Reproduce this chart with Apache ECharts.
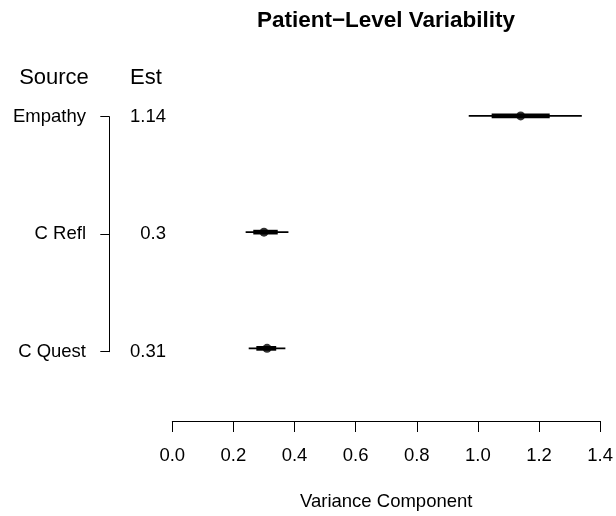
<!DOCTYPE html>
<html>
<head>
<meta charset="utf-8">
<script src="https://cdn.jsdelivr.net/npm/echarts@6/dist/echarts.min.js"></script>
<style>html,body{margin:0;padding:0;background:#fff;}#c{width:616px;height:516px;}</style>
</head>
<body>
<div id="c"></div>
<script>
// ---- data ----
var sources = ['Empathy', 'C Refl', 'C Quest'];
var est = [1.14, 0.3, 0.31];
var lo95 = [0.97, 0.24, 0.25];
var hi95 = [1.34, 0.38, 0.37];
var lo50 = [1.045, 0.265, 0.275];
var hi50 = [1.235, 0.345, 0.34];
var xTicks = [0.0, 0.2, 0.4, 0.6, 0.8, 1.0, 1.2, 1.4];
var titleText = 'Patient\u2212Level Variability';
var xName = 'Variance Component';

// row positions: first source at top
function rowY(i) { return sources.length - i; }

var FONT = 'Liberation Sans, Arial, Helvetica, sans-serif';

var thinData = sources.map(function (s, i) { return [lo95[i], hi95[i], rowY(i)]; });
var thickData = sources.map(function (s, i) { return [lo50[i], hi50[i], rowY(i)]; });
var pointData = sources.map(function (s, i) { return [est[i], rowY(i)]; });

function segRenderer(width) {
  return function (params, api) {
    var p1 = api.coord([api.value(0), api.value(2)]);
    var p2 = api.coord([api.value(1), api.value(2)]);
    return {
      type: 'line',
      shape: { x1: p1[0], y1: p1[1], x2: p2[0], y2: p2[1] },
      style: { stroke: '#000', lineWidth: width, lineCap: 'butt' }
    };
  };
}

var chart = echarts.init(document.getElementById('c'), null, { renderer: 'canvas' });
chart.setOption({
  animation: false,
  backgroundColor: '#fff',
  title: [
    { text: titleText, left: 386, top: 21, textAlign: 'center', textVerticalAlign: 'middle', padding: 0,
      textStyle: { fontFamily: FONT, fontSize: 22.5, fontWeight: 'bold', color: '#000' } },
    { text: 'Source', left: 54, top: 77.5, textAlign: 'center', textVerticalAlign: 'middle', padding: 0,
      textStyle: { fontFamily: FONT, fontSize: 22, fontWeight: 'normal', color: '#000' } },
    { text: 'Est', left: 146, top: 77.5, textAlign: 'center', textVerticalAlign: 'middle', padding: 0,
      textStyle: { fontFamily: FONT, fontSize: 22, fontWeight: 'normal', color: '#000' } }
  ],
  grid: [
    { left: 172.3, right: 15.3, top: 57.8, bottom: 91, containLabel: false },
    { left: 109.3, width: 56.7, top: 116.7, height: 235, containLabel: false }
  ],
  xAxis: [
    {
      gridIndex: 0, type: 'value', min: xTicks[0], max: xTicks[xTicks.length - 1], interval: 0.2,
      position: 'bottom',
      axisLine: { show: true, lineStyle: { color: '#000', width: 1 } },
      axisTick: { show: true, length: 11, lineStyle: { color: '#000', width: 1 } },
      axisLabel: { show: true, margin: 25, color: '#000', fontFamily: FONT, fontSize: 18.5,
        formatter: function (v) { return v.toFixed(1); } },
      splitLine: { show: false },
      name: xName, nameLocation: 'middle', nameGap: 71,
      nameTextStyle: { color: '#000', fontFamily: FONT, fontSize: 18.5 }
    },
    { gridIndex: 1, type: 'value', show: false, min: 0, max: 1 }
  ],
  yAxis: [
    { gridIndex: 0, type: 'value', min: 0.375, max: 3.5, show: false },
    {
      gridIndex: 1, type: 'value', min: 1, max: 3, interval: 1, position: 'left',
      axisLine: { show: true, lineStyle: { color: '#000', width: 1 } },
      axisTick: { show: true, length: 9, lineStyle: { color: '#000', width: 1 } },
      axisLabel: { show: true, margin: 23.3, color: '#000', fontFamily: FONT, fontSize: 18.5,
        formatter: function (v) { return sources[sources.length - v]; } },
      splitLine: { show: false }
    },
    {
      gridIndex: 1, type: 'value', min: 1, max: 3, interval: 1, position: 'right',
      axisLine: { show: false }, axisTick: { show: false },
      axisLabel: { show: true, margin: 0, align: 'right', color: '#000', fontFamily: FONT, fontSize: 18.5,
        formatter: function (v) { return String(est[sources.length - v]); } },
      splitLine: { show: false }
    }
  ],
  series: [
    { type: 'custom', xAxisIndex: 0, yAxisIndex: 0, renderItem: segRenderer(1.6),
      encode: { x: [0, 1], y: 2 }, data: thinData, silent: true },
    { type: 'custom', xAxisIndex: 0, yAxisIndex: 0, renderItem: segRenderer(4.7),
      encode: { x: [0, 1], y: 2 }, data: thickData, silent: true },
    { type: 'scatter', xAxisIndex: 0, yAxisIndex: 0, symbol: 'circle', symbolSize: 9,
      itemStyle: { color: '#000' }, data: pointData, silent: true }
  ]
});
</script>
</body>
</html>
